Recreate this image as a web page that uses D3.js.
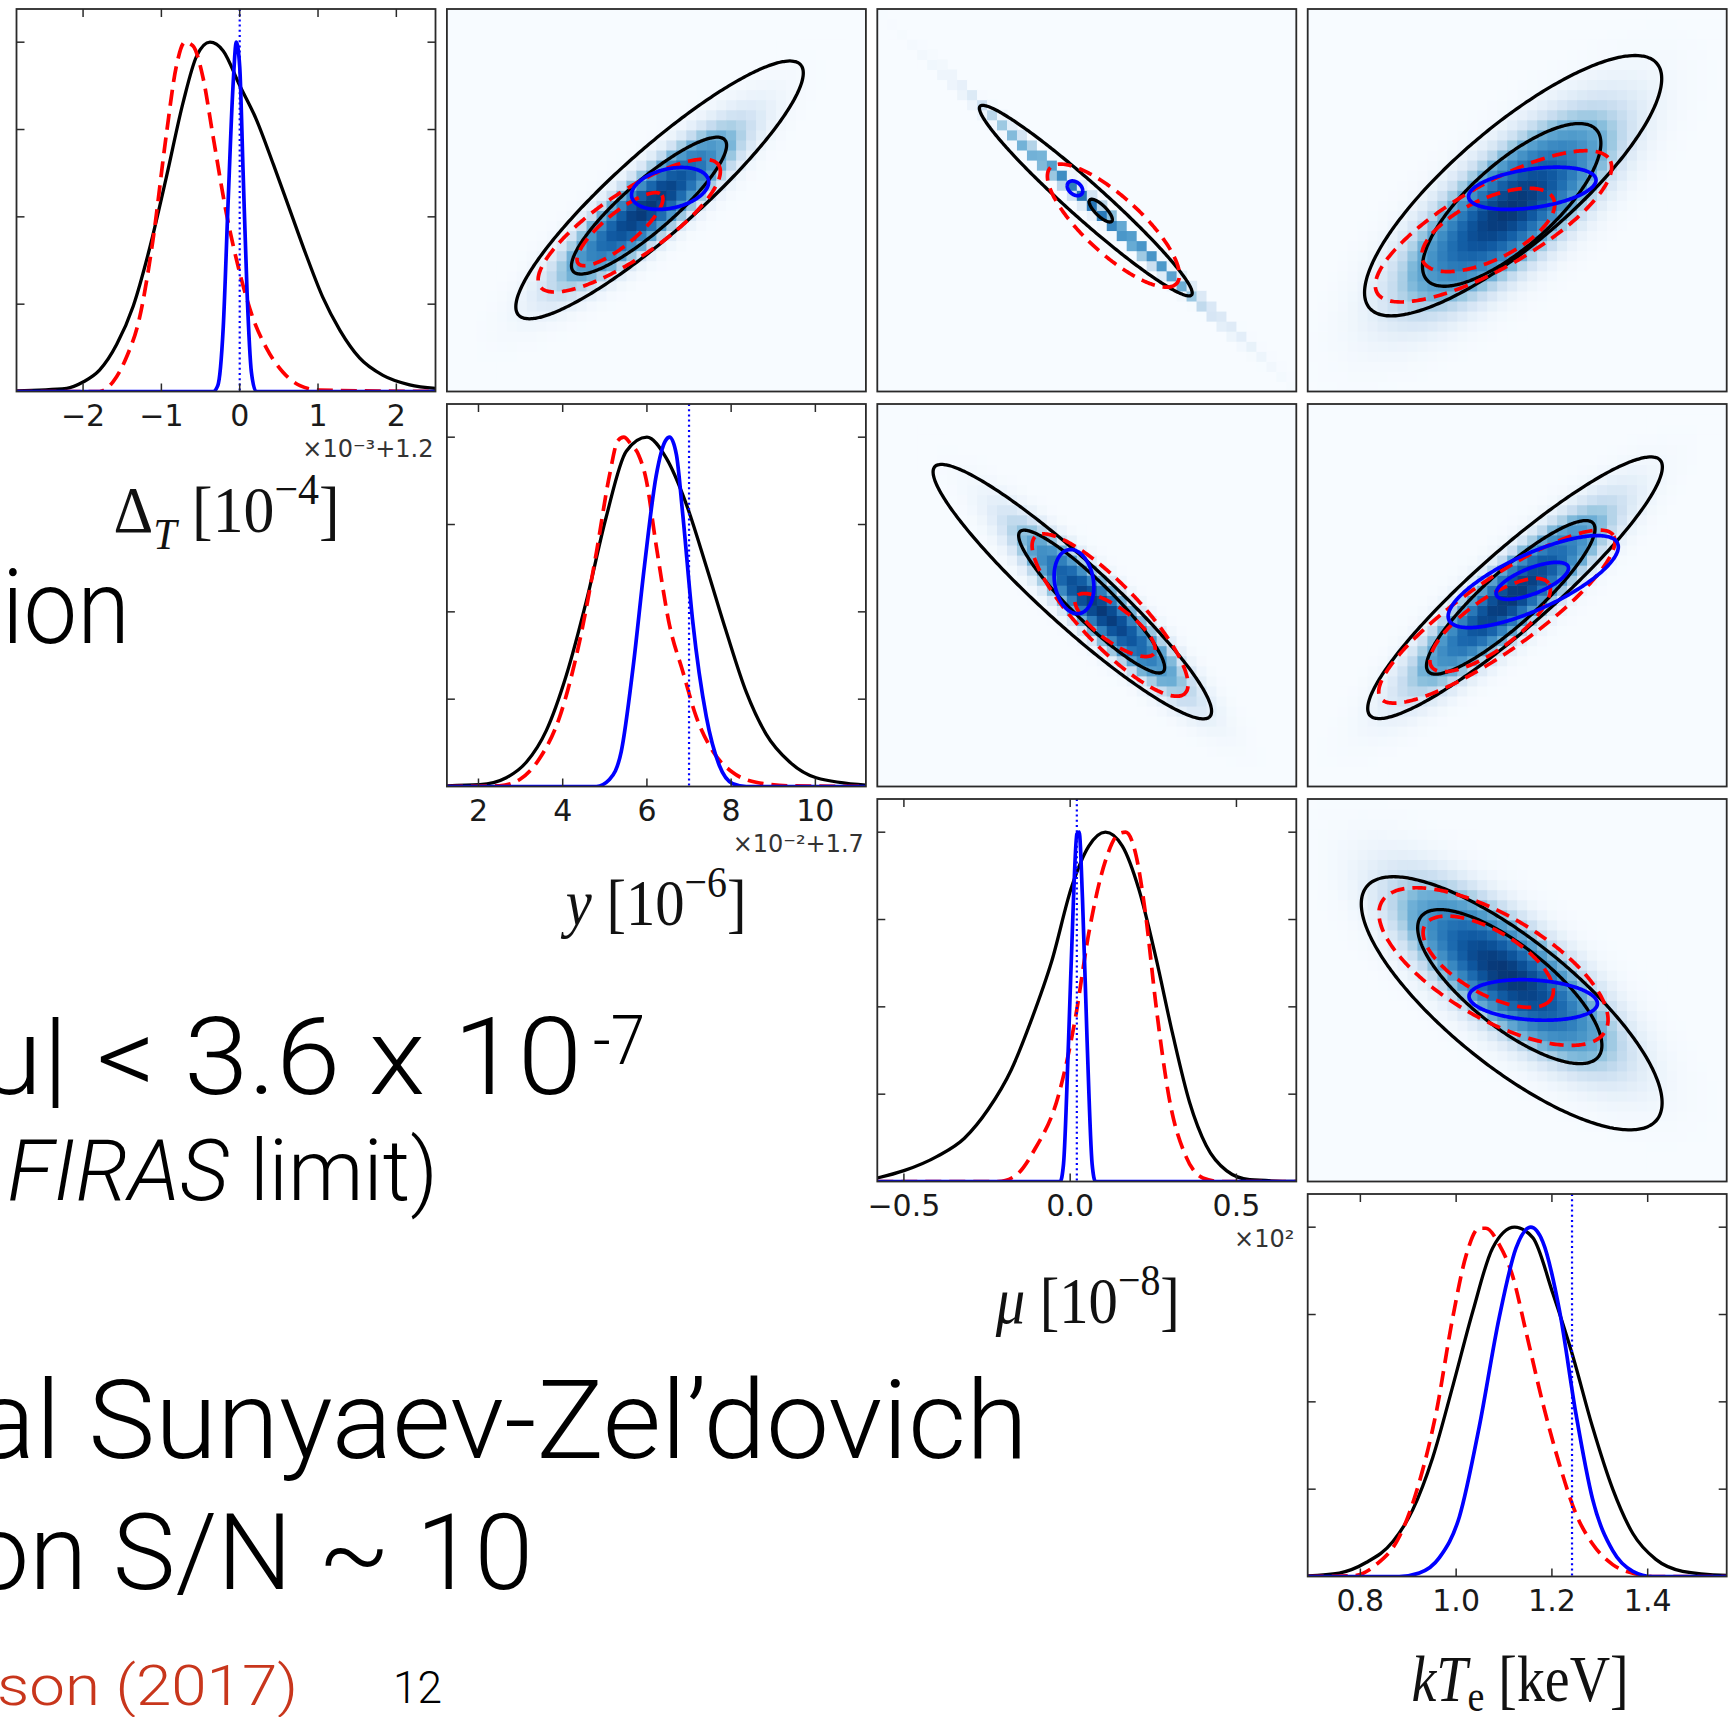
<!DOCTYPE html>
<html><head><meta charset="utf-8">
<script src="https://cdn.jsdelivr.net/npm/d3@7"></script>
<style>html,body{margin:0;padding:0;background:#fff;} svg{display:block;}</style>
</head><body>
<svg id="chart" width="1729" height="1717"></svg>
<script>
// ================= DATA =================
const variableNames = ["dT", "y", "mu", "kTe"];
const axisDomains = [[-2.85, 2.5], [1.25, 11.2], [-0.58, 0.68], [0.69, 1.565]];
const tickValues = [[-2, -1, 0, 1, 2], [2, 4, 6, 8, 10], [-0.5, 0, 0.5], [0.8, 1.0, 1.2, 1.4]];
const tickLabels = [["−2", "−1", "0", "1", "2"], ["2", "4", "6", "8", "10"], ["−0.5", "0.0", "0.5"], ["0.8", "1.0", "1.2", "1.4"]];
const offsetLabels = ["×10⁻³+1.2", "×10⁻²+1.7", "×10²", ""];
const truthValues = [0.0, 7.0, 0.02, 1.242];
const densityDomain = [0, 1.095];
const densityTicks = [0.25, 0.5, 0.75, 1.0];

// 1D marginal posteriors (x, normalised density)
const dT_black = [[-2.85,0.002],[-2.21,0.009],[-2.0,0.027],[-1.79,0.061],[-1.57,0.135],[-1.36,0.244],[-1.15,0.41],[-0.94,0.61],[-0.72,0.83],[-0.55,0.96],[-0.38,1.0],[-0.21,0.975],[0,0.876],[0.21,0.78],[0.43,0.65],[0.64,0.52],[0.85,0.39],[1.06,0.27],[1.28,0.175],[1.53,0.096],[1.83,0.046],[2.17,0.019],[2.5,0.009]];
const dT_red = [[-2.85,0],[-1.79,0],[-1.62,0.027],[-1.45,0.096],[-1.28,0.21],[-1.11,0.43],[-0.94,0.73],[-0.81,0.93],[-0.70,1.0],[-0.60,0.99],[-0.47,0.90],[-0.34,0.73],[-0.17,0.51],[0,0.34],[0.17,0.21],[0.34,0.125],[0.55,0.056],[0.77,0.017],[1.02,0.004],[2.5,0]];
const dT_blue = [[-2.85,0],[-0.34,0],[-0.28,0.017],[-0.21,0.185],[-0.15,0.53],[-0.085,0.876],[-0.043,1.0],[0,0.93],[0.043,0.63],[0.094,0.284],[0.149,0.056],[0.21,0],[2.5,0]];

const y_black = [[1.25,0.002],[2.03,0.005],[2.66,0.025],[3.14,0.07],[3.61,0.16],[4.09,0.32],[4.56,0.53],[5.03,0.77],[5.51,0.96],[6.0,1.0],[6.46,0.94],[6.93,0.81],[7.41,0.63],[7.88,0.445],[8.36,0.27],[8.83,0.15],[9.39,0.07],[10.02,0.025],[11.2,0.004]];
const y_red = [[1.25,0],[2.5,0.002],[2.98,0.02],[3.45,0.08],[3.93,0.2],[4.4,0.415],[4.8,0.67],[5.11,0.89],[5.31,0.99],[5.45,1.0],[5.62,0.98],[5.8,0.95],[5.98,0.88],[6.22,0.69],[6.54,0.46],[6.85,0.33],[7.17,0.2],[7.57,0.1],[8.04,0.04],[8.59,0.012],[9.39,0.002],[11.2,0]];
const y_blue = [[1.25,0],[4.8,0],[5.11,0.02],[5.39,0.1],[5.67,0.34],[5.94,0.63],[6.22,0.89],[6.44,0.99],[6.54,1.0],[6.70,0.95],[6.85,0.78],[7.09,0.47],[7.41,0.2],[7.72,0.06],[8.04,0.008],[8.36,0],[11.2,0]];

const mu_black = [[-0.58,0.01],[-0.5,0.031],[-0.40,0.072],[-0.318,0.124],[-0.247,0.206],[-0.177,0.32],[-0.116,0.464],[-0.056,0.629],[0.005,0.845],[0.056,0.96],[0.106,1.0],[0.157,0.96],[0.207,0.835],[0.258,0.64],[0.308,0.423],[0.359,0.227],[0.409,0.103],[0.47,0.031],[0.54,0.005],[0.68,0]];
const mu_red = [[-0.58,0],[-0.217,0],[-0.167,0.015],[-0.106,0.093],[-0.035,0.247],[0.015,0.464],[0.056,0.711],[0.106,0.918],[0.146,0.995],[0.167,1.0],[0.197,0.938],[0.227,0.763],[0.258,0.505],[0.298,0.237],[0.348,0.072],[0.399,0.01],[0.449,0],[0.68,0]];
const mu_blue = [[-0.58,0],[-0.030,0],[-0.020,0.05],[-0.005,0.40],[0.010,0.81],[0.020,0.995],[0.027,1.0],[0.037,0.81],[0.051,0.40],[0.066,0.05],[0.076,0],[0.68,0]];

const kTe_black = [[0.69,0.002],[0.756,0.01],[0.812,0.04],[0.868,0.10],[0.909,0.19],[0.951,0.34],[0.993,0.545],[1.035,0.76],[1.076,0.94],[1.122,1.0],[1.16,0.97],[1.202,0.81],[1.243,0.634],[1.285,0.427],[1.327,0.25],[1.369,0.123],[1.417,0.049],[1.473,0.015],[1.565,0.003]];
const kTe_red = [[0.69,0],[0.784,0.002],[0.833,0.034],[0.881,0.113],[0.923,0.27],[0.958,0.467],[0.993,0.742],[1.021,0.92],[1.048,0.997],[1.062,0.997],[1.09,0.95],[1.118,0.86],[1.146,0.70],[1.181,0.496],[1.216,0.32],[1.25,0.18],[1.285,0.093],[1.327,0.034],[1.376,0.007],[1.41,0],[1.565,0]];
const kTe_blue = [[0.69,0],[0.881,0],[0.923,0.01],[0.965,0.054],[1.007,0.172],[1.048,0.427],[1.09,0.742],[1.125,0.94],[1.156,1.0],[1.181,0.958],[1.216,0.76],[1.25,0.467],[1.285,0.221],[1.327,0.074],[1.369,0.015],[1.41,0],[1.565,0]];

// 2D contours: [centerX, centerY, majorEndX, majorEndY, minor/major ratio] in data units
const contours_0_1 = {black: [[6.30,-0.03,9.65,1.72,0.22],[6.05,-0.25,7.85,0.67,0.25]], red: [[5.58,-0.53,7.70,0.32,0.30],[5.36,-0.58,6.35,-0.10,0.30]], blue: [[6.55,-0.01,7.46,0.11,0.5]]};
const contours_0_2 = {black: [[0.047,-0.18,0.365,-1.50,0.125],[0.092,-0.32,0.125,-0.47,0.35]], red: [[0.130,-0.53,0.320,-1.34,0.33]], blue: [[0.0145,-0.008,0.0345,-0.088,0.7]]};
const contours_0_3 = {black: [[1.119,0.029,1.419,1.74,0.31],[1.116,-0.24,1.293,0.81,0.37]], red: [[1.078,-0.54,1.321,0.39,0.31],[1.067,-0.59,1.203,-0.15,0.42]], blue: [[1.159,-0.008,1.292,0.118,0.30]]};
const contours_1_2 = {black: [[0.0065,6.32,0.420,3.07,0.175],[0.0646,6.06,0.280,4.24,0.2]], red: [[0.120,5.71,0.345,3.67,0.28],[0.135,5.45,0.252,4.71,0.35]], blue: [[0.0115,6.58,0.0275,5.75,0.6]]};
const contours_1_3 = {black: [[1.123,6.42,1.426,9.74,0.2],[1.114,6.17,1.286,8.10,0.24]], red: [[1.085,5.67,1.328,7.79,0.25],[1.071,5.45,1.193,6.54,0.35]], blue: [[1.161,6.58,1.337,7.58,0.3],[1.159,6.60,1.234,6.97,0.33]]};
const contours_2_3 = {black: [[1.116,0.007,1.419,-0.377,0.34],[1.112,0.062,1.297,-0.169,0.36]], red: [[1.078,0.128,1.311,-0.086,0.4],[1.067,0.144,1.199,0.023,0.43]], blue: [[1.161,0.018,1.295,0.005,0.31]]};

// 2D histogram density: 68% ellipse of the sampled posterior [cx, cy, majorEndX, majorEndY, ratio]
const density_0_1 = [6.05,-0.25,7.85,0.67,0.25];
const density_0_2 = [0.0896,-0.335,0.403,-1.64,0.025];
const density_0_3 = [1.11,-0.30,1.29,0.76,0.37];
const density_1_2 = [0.0897,5.88,0.305,4.06,0.2];
const density_1_3 = [1.114,6.17,1.286,8.10,0.24];
const density_2_3 = [1.105,0.106,1.29,-0.125,0.36];

// slide text behind the figure
const slideLines = [
  {parts: [["ion", "normal"]], x0: 2, x1: 130, base: 643, size: 104, color: "#000"},
  {parts: [["μ| < 3.6 x 10", "normal"]], x0: -22, x1: 582, base: 1094, size: 107, color: "#000"},
  {parts: [["-7", "normal"]], x0: 593, x1: 645, base: 1064, size: 68, color: "#000"},
  {parts: [["FIRAS", "italic"], [" limit)", "normal"]], x0: 7, x1: 438, base: 1200, size: 86, color: "#000"},
  {parts: [["al Sunyaev-Zel’dovich", "normal"]], x0: -25, x1: 1028, base: 1458, size: 110, color: "#000"},
  {parts: [["on S/N ~ 10", "normal"]], x0: -30, x1: 533, base: 1589, size: 106, color: "#000"},
  {parts: [["son (2017)", "normal"]], x0: -3, x1: 298, base: 1705, size: 56, color: "#c8361c"},
  {parts: [["12", "normal"]], x0: 393, x1: 442, base: 1703, size: 44, color: "#000"}
];

// axis labels (math)
const axisLabelParts = [
  [["Δ","n"],["T","sub"],[" [10","n"],["−4","sup"],["]","n"]],
  [["y","i"],[" [10","n"],["−6","sup"],["]","n"]],
  [["μ","i"],[" [10","n"],["−8","sup"],["]","n"]],
  [["kT","i"],["e","sub"],[" [keV]","n"]]
];

// ================= LAYOUT =================
const PX0 = 16.5, PITCHX = 430.4, PW = 419;
const PY0 = 9, PITCHY = 395, PH = 382.5;
const labelSpans = [[113.6, 339.6], [565.7, 746.5], [995.7, 1179.9], [1411.5, 1628.7]];
const labelDrop = [140, 138, 141, 124];

const svg = d3.select("#chart");
const defs = svg.append("defs");

function box(r, c) { return {x: PX0 + c * PITCHX, y: PY0 + r * PITCHY, w: PW, h: PH}; }
function xScale(c) { const b = box(0, c); return d3.scaleLinear().domain(axisDomains[c]).range([b.x, b.x + b.w]); }
function yScale2D(r) { const b = box(r, 0); return d3.scaleLinear().domain(axisDomains[r]).range([b.y + b.h, b.y]); }
function yScale1D(r) { const b = box(r, r); return d3.scaleLinear().domain(densityDomain).range([b.y + b.h, b.y]); }

// ---------- slide text ----------
const slide = svg.append("g").attr("font-family", "Roboto, 'Liberation Sans', sans-serif").attr("font-weight", 300);
slideLines.forEach(L => {
  const t = slide.append("text").attr("x", L.x0).attr("y", L.base)
    .attr("font-size", L.size).attr("fill", L.color)
    .attr("textLength", L.x1 - L.x0).attr("lengthAdjust", "spacingAndGlyphs");
  L.parts.forEach(p => t.append("tspan").attr("font-style", p[1]).text(p[0]));
});

// ---------- helpers ----------
function ellipsePoints(p, sx, sy) {
  const cx = sx(p[0]), cy = sy(p[1]);
  const ux = sx(p[2]) - cx, uy = sy(p[3]) - cy;
  const vx = -uy * p[4], vy = ux * p[4];
  return d3.range(0, 180).map(i => {
    const t = i / 180 * 2 * Math.PI;
    return [cx + Math.cos(t) * ux + Math.sin(t) * vx, cy + Math.cos(t) * uy + Math.sin(t) * vy];
  });
}
function densityFn(p, sx, sy) {
  const cx = sx(p[0]), cy = sy(p[1]);
  const ux = sx(p[2]) - cx, uy = sy(p[3]) - cy;
  const vx = -uy * p[4], vy = ux * p[4];
  const uu = ux * ux + uy * uy, vv = vx * vx + vy * vy;
  return (px, py) => {
    const dx = px - cx, dy = py - cy;
    const a = (dx * ux + dy * uy) / uu, b = (dx * vx + dy * vy) / vv;
    return Math.exp(-0.5 * 2.3 * (a * a + b * b));
  };
}
function shade(v) {
  const t = 0.98 * Math.pow(v, 0.55) * (v > 0.28 ? 1 : Math.pow(v / 0.28, 0.6));
  return d3.interpolateBlues(Math.min(1, t));
}
function addClip(id, b) {
  defs.append("clipPath").attr("id", id).append("rect")
    .attr("x", b.x).attr("y", b.y).attr("width", b.w).attr("height", b.h);
}

const closedLine = d3.line().curve(d3.curveCardinalClosed.tension(0.5));
const DASH = "14,8";
const LW_BLACK = 3.3, LW_COLOR = 3.7;

// ---------- 2D panels ----------
const panels2D = [
  [0, 1, contours_0_1, density_0_1], [0, 2, contours_0_2, density_0_2], [0, 3, contours_0_3, density_0_3],
  [1, 2, contours_1_2, density_1_2], [1, 3, contours_1_3, density_1_3], [2, 3, contours_2_3, density_2_3]
];
const NX = 42, NY = 38;
panels2D.forEach(([r, c, cont, dens]) => {
  const b = box(r, c);
  const sx = xScale(c), sy = yScale2D(r);
  const id = `clip${r}${c}`;
  addClip(id, b);
  const g = svg.append("g").attr("clip-path", `url(#${id})`);
  g.append("rect").attr("x", b.x).attr("y", b.y).attr("width", b.w).attr("height", b.h).attr("fill", d3.interpolateBlues(0));
  const f = densityFn(dens, sx, sy);
  const xd = axisDomains[c], yd = axisDomains[r];
  const dxs = (xd[1] - xd[0]) / NX, dys = (yd[1] - yd[0]) / NY;
  const cells = [];
  for (let i = 0; i < NX; i++) for (let j = 0; j < NY; j++) {
    const xa = xd[0] + i * dxs, xb = xa + dxs, ya = yd[0] + j * dys, yb = ya + dys;
    let s = 0;
    for (let a = 0; a < 4; a++) for (let q = 0; q < 4; q++) {
      s += f(sx(xa + (a + 0.5) / 4 * dxs), sy(ya + (q + 0.5) / 4 * dys));
    }
    s /= 16;
    if (s > 0.0005) cells.push({xa, xb, ya, yb, v: s});
  }
  g.selectAll("rect.cell").data(cells).enter().append("rect").attr("class", "cell")
    .attr("x", d => sx(d.xa)).attr("y", d => sy(d.yb))
    .attr("width", d => sx(d.xb) - sx(d.xa) + 0.6).attr("height", d => sy(d.ya) - sy(d.yb) + 0.6)
    .attr("fill", d => shade(d.v));
  cont.black.forEach(p => g.append("path").attr("d", closedLine(ellipsePoints(p, sx, sy)))
    .attr("fill", "none").attr("stroke", "#000").attr("stroke-width", LW_BLACK));
  cont.red.forEach(p => g.append("path").attr("d", closedLine(ellipsePoints(p, sx, sy)))
    .attr("fill", "none").attr("stroke", "#ff0000").attr("stroke-width", LW_COLOR).attr("stroke-dasharray", DASH));
  cont.blue.forEach(p => g.append("path").attr("d", closedLine(ellipsePoints(p, sx, sy)))
    .attr("fill", "none").attr("stroke", "#0000ff").attr("stroke-width", LW_COLOR));
  svg.append("rect").attr("x", b.x).attr("y", b.y).attr("width", b.w).attr("height", b.h)
    .attr("fill", "none").attr("stroke", "#2a2a2a").attr("stroke-width", 1.8);
});

// ---------- 1D panels ----------
const curves1D = [
  [dT_black, dT_red, dT_blue], [y_black, y_red, y_blue], [mu_black, mu_red, mu_blue], [kTe_black, kTe_red, kTe_blue]
];
curves1D.forEach((cv, k) => {
  const b = box(k, k);
  const sx = xScale(k), sy = yScale1D(k);
  const id = `clipd${k}`;
  addClip(id, b);
  svg.append("rect").attr("x", b.x).attr("y", b.y).attr("width", b.w).attr("height", b.h).attr("fill", "#fff");
  const g = svg.append("g").attr("clip-path", `url(#${id})`);
  const line = d3.line().x(d => sx(d[0])).y(d => sy(d[1])).curve(d3.curveMonotoneX);
  g.append("path").attr("d", line(cv[0])).attr("fill", "none").attr("stroke", "#000").attr("stroke-width", LW_BLACK);
  g.append("path").attr("d", line(cv[1])).attr("fill", "none").attr("stroke", "#ff0000").attr("stroke-width", LW_COLOR).attr("stroke-dasharray", "16,8");
  g.append("path").attr("d", line(cv[2])).attr("fill", "none").attr("stroke", "#0000ff").attr("stroke-width", LW_COLOR);
  g.append("line").attr("x1", sx(truthValues[k])).attr("x2", sx(truthValues[k]))
    .attr("y1", b.y).attr("y2", b.y + b.h)
    .attr("stroke", "#0000ff").attr("stroke-width", 2.2).attr("stroke-dasharray", "2,3.2");
  // ticks
  const tk = svg.append("g").attr("stroke", "#2a2a2a").attr("stroke-width", 1.5);
  tickValues[k].forEach(v => {
    const x = sx(v);
    tk.append("line").attr("x1", x).attr("x2", x).attr("y1", b.y + b.h).attr("y2", b.y + b.h - 8);
    tk.append("line").attr("x1", x).attr("x2", x).attr("y1", b.y).attr("y2", b.y + 8);
  });
  densityTicks.forEach(v => {
    const y = sy(v);
    tk.append("line").attr("x1", b.x).attr("x2", b.x + 8).attr("y1", y).attr("y2", y);
    tk.append("line").attr("x1", b.x + b.w).attr("x2", b.x + b.w - 8).attr("y1", y).attr("y2", y);
  });
  svg.append("rect").attr("x", b.x).attr("y", b.y).attr("width", b.w).attr("height", b.h)
    .attr("fill", "none").attr("stroke", "#2a2a2a").attr("stroke-width", 1.8);
  // tick labels
  const lab = svg.append("g").attr("font-family", "'DejaVu Sans', sans-serif").attr("font-size", 30).attr("fill", "#1a1a1a").attr("text-anchor", "middle");
  tickValues[k].forEach((v, i) => {
    lab.append("text").attr("x", sx(v)).attr("y", b.y + b.h + 34).text(tickLabels[k][i]);
  });
  if (offsetLabels[k]) {
    svg.append("text").attr("x", b.x + b.w - 2).attr("y", b.y + b.h + 65)
      .attr("text-anchor", "end").attr("font-family", "'DejaVu Sans', sans-serif")
      .attr("font-size", 24).attr("fill", "#333").text(offsetLabels[k]);
  }
  // axis label
  const fs = 66;
  const span = labelSpans[k];
  const t = svg.append("text").attr("x", span[0]).attr("y", b.y + b.h + labelDrop[k])
    .attr("font-family", "'Liberation Serif', 'DejaVu Serif', serif").attr("font-size", fs).attr("fill", "#111")
    .attr("textLength", span[1] - span[0]).attr("lengthAdjust", "spacingAndGlyphs");
  let shift = 0;
  axisLabelParts[k].forEach(p => {
    const target = p[1] === "sub" ? (k === 3 ? 0.16 : 0.26) * fs : p[1] === "sup" ? -0.42 * fs : 0;
    const ts = t.append("tspan").attr("dy", target - shift).text(p[0]);
    shift = target;
    if (p[1] === "sub" || p[1] === "sup") ts.attr("font-size", fs * 0.68);
    if (p[1] === "i" || (p[1] === "sub" && p[0] === "T")) ts.attr("font-style", "italic");
  });
});
</script>
</body></html>
